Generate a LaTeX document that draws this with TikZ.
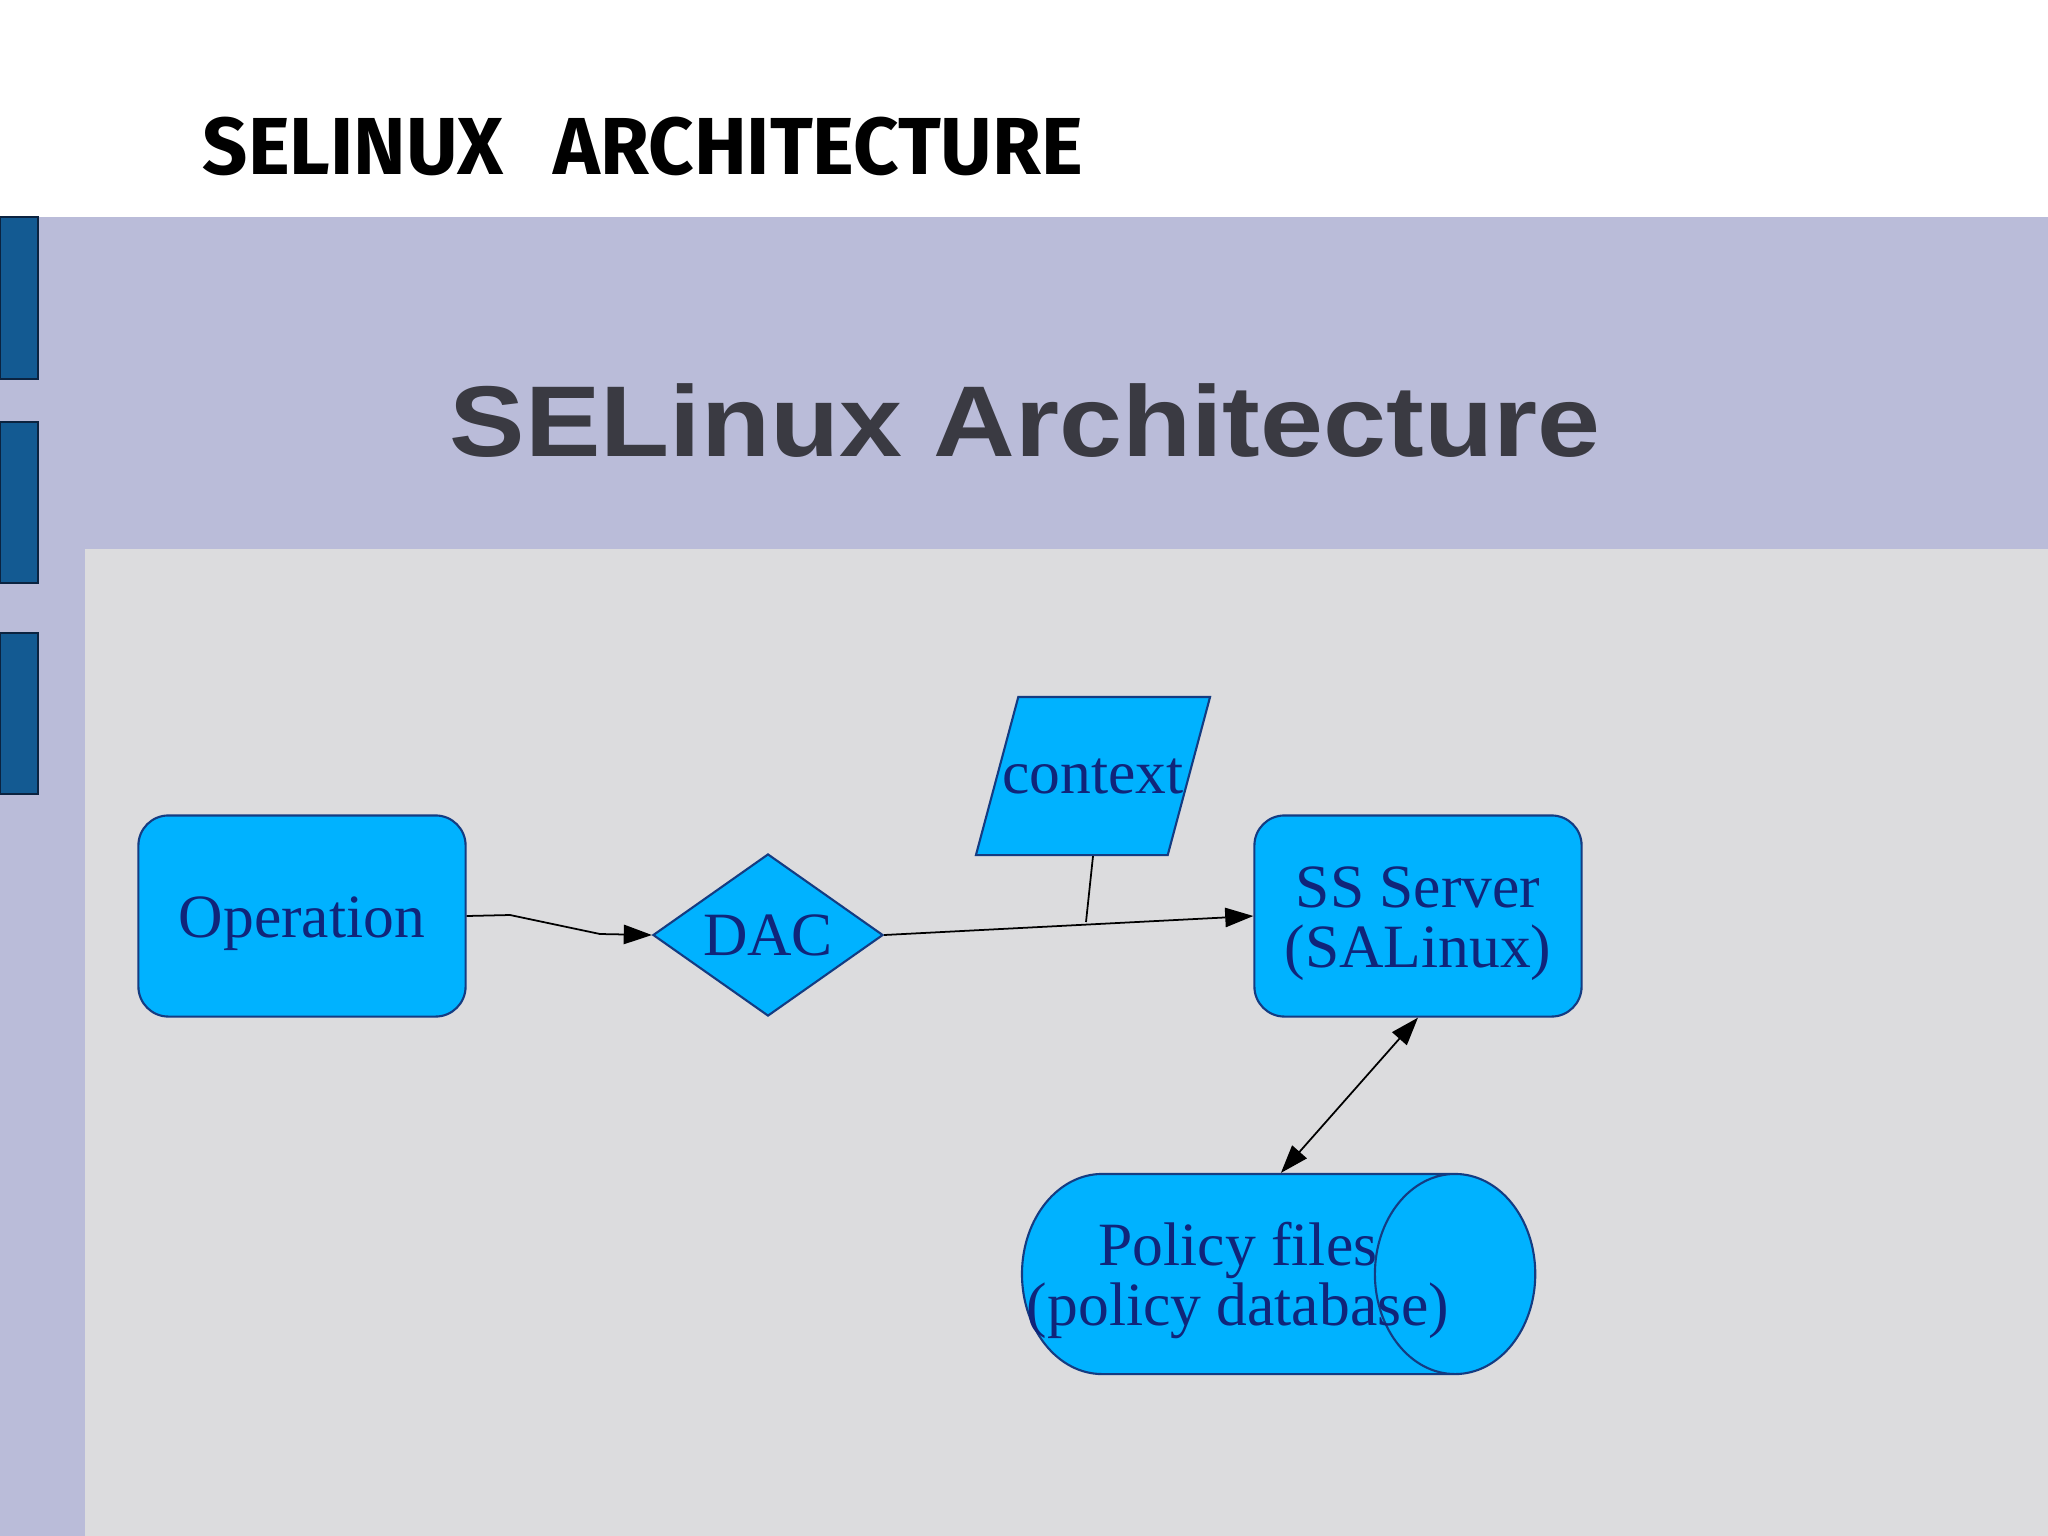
\documentclass[tikz,border=0pt]{standalone}
\usepackage{xcolor}
\usepackage{fontspec}
\usepackage{tikz}
\usetikzlibrary{shapes,arrows.meta,positioning}
\setmainfont{Liberation Serif}
\newfontfamily\headfont{Fira Sans}
\newfontfamily\slidefont{Liberation Sans}
\definecolor{lavender}{HTML}{BABCD9}
\definecolor{panelgray}{HTML}{DCDCDE}
\definecolor{barblue}{HTML}{135A92}
\definecolor{bardark}{HTML}{0B2340}
\definecolor{boxblue}{HTML}{00B2FF}
\definecolor{boxline}{HTML}{143C82}
\definecolor{boxtext}{HTML}{10257A}
\definecolor{slidetext}{HTML}{3A3A42}
\newcommand{\lowerline}{\rule{0pt}{16pt}}
\newcommand{\spill}[1]{\makebox[0pt]{#1}}

\begin{document}
\begin{tikzpicture}[
			x=0.01cm,y=-0.01cm,
			flowbox/.style={draw=boxline,fill=boxblue,line width=0.6pt,text=boxtext,inner sep=0pt,align=center,font=\fontsize{17.5}{17}\selectfont},
			termbox/.style={flowbox,rounded corners=0.3cm,minimum width=3.27cm,minimum height=2.01cm},
			sidebar/.style={fill=barblue,draw=bardark,line width=0.7pt},
			flowline/.style={black,line width=0.5pt},
			flowarrow/.style={flowline,-{Triangle[length=8pt,width=5.5pt]}},
			bothways/.style={flowline,{Triangle[length=8pt,width=5.5pt]}-{Triangle[length=8pt,width=5.5pt]}}
			]
			\useasboundingbox (0,0) rectangle (2048,1536);

			\fill[white] (0,0) rectangle (2048,217);
			\fill[lavender] (0,217) rectangle (2048,1536);
			\fill[panelgray] (85,549) rectangle (2048,1536);

			\draw[sidebar] (0,217) rectangle (38,379);
			\draw[sidebar] (0,422) rectangle (38,583);
			\draw[sidebar] (0,633) rectangle (38,794);

			\node[anchor=base,xscale=0.98,font=\headfont\bfseries\fontsize{23}{23}\selectfont] (headline) at (643,174) {SELINUX\hspace{0.4em} ARCHITECTURE};
			\node[anchor=base,xscale=1.125,text=slidetext,font=\slidefont\bfseries\fontsize{28.6}{28.6}\selectfont] (slidetitle) at (1025,456) {SELinux Architecture};

			\node[termbox] (operation) at (302,916) {\lowerline Operation};
			\node[flowbox,diamond,aspect=1.42,minimum width=2.3cm,minimum height=1.62cm] (dac) at (768,935) {DAC};
			\node[flowbox,trapezium,trapezium left angle=75,trapezium right angle=105,trapezium stretches body,minimum width=2.34cm,text height=0.96cm,text depth=0.62cm] (context) at (1093,776) {\spill{context}};
			\node[termbox] (server) at (1418,916) {\lowerline SS Server\\(SALinux)};
			\node[flowbox,cylinder,aspect=1.24,minimum width=2cm,minimum height=5.13cm] (policy) at (1238,1274) {\lowerline\spill{Policy files}\\\spill{(policy database)}};

			\coordinate (bendA) at (510,915);
			\coordinate (bendB) at (600,934);
			\coordinate (joint) at (1086,922);

			\draw[flowarrow] (operation.east) -- (bendA) -- (bendB) -- (dac.west);
			\draw[flowarrow] (dac.east) -- (server.west);
			\draw[flowline] (context.south) -- (joint);
			\draw[bothways] (server.south) -- (policy.67);

	\end{tikzpicture}
\end{document}
